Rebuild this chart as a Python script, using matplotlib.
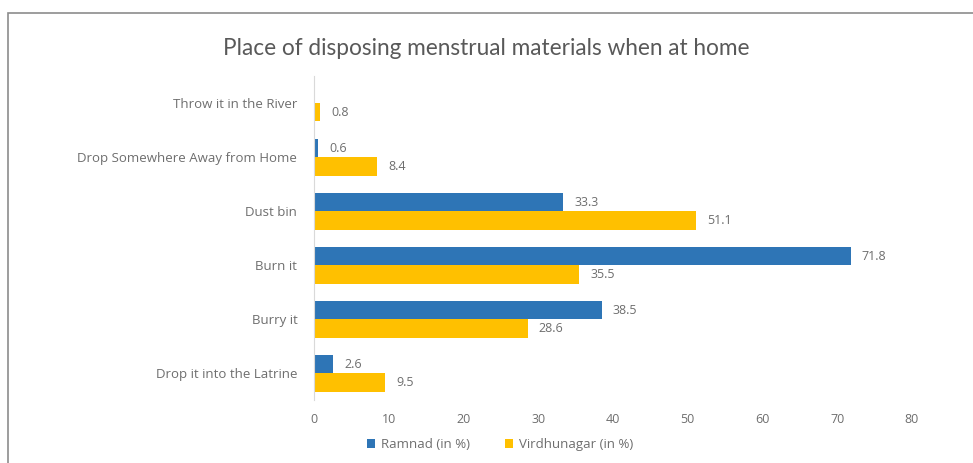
import matplotlib.pyplot as plt
import numpy as np
from matplotlib.patches import Rectangle

plt.rcParams['font.family'] = ['Open Sans', 'DejaVu Sans']

# Disposal places, listed top to bottom
categories = [
    "Throw it in the River",
    "Drop Somewhere Away from Home",
    "Dust bin",
    "Burn it",
    "Burry it",
    "Drop it into the Latrine",
]
ramnad = [None, 0.6, 33.3, 71.8, 38.5, 2.6]
virdhunagar = [0.8, 8.4, 51.1, 35.5, 28.6, 9.5]

BLUE = '#2E75B6'
GOLD = '#FFC000'
GREY = '#6e6e6e'

fig = plt.figure(figsize=(9.73, 4.63), dpi=100)
ax = fig.add_axes([0.3227, 0.135, 0.6146, 0.70])

# outer frame of the chart box
fig.patches.append(Rectangle((8 / 973, -0.1), 1.2, 1 - 13 / 463 + 0.1,
                             transform=fig.transFigure, fill=False,
                             edgecolor='#8c8c8c', linewidth=1.2))

y = np.arange(len(categories))
h = 0.335

r_vals = [v if v is not None else 0 for v in ramnad]
bars_r = ax.barh(y - h / 2, r_vals, height=h, color=BLUE, label='Ramnad (in %)')
bars_v = ax.barh(y + h / 2, virdhunagar, height=h, color=GOLD, label='Virdhunagar (in %)')

for bars, vals in [(bars_r, ramnad), (bars_v, virdhunagar)]:
    for bar, v in zip(bars, vals):
        if v is None:
            continue
        ax.annotate(f"{v:.1f}", (bar.get_width(), bar.get_y() + bar.get_height() / 2),
                    xytext=(8, 0), textcoords='offset points', va='center',
                    fontsize=9, color=GREY)

ax.set_yticks(y)
ax.set_yticklabels(categories)
ax.set_ylim(len(categories) - 0.5, -0.5)
ax.set_xlim(0, 80)
ax.set_xticks(range(0, 81, 10))

for side in ['top', 'right', 'bottom']:
    ax.spines[side].set_visible(False)
ax.spines['left'].set_color('#d9d9d9')
ax.tick_params(axis='both', length=0, colors=GREY, labelsize=9)
ax.tick_params(axis='y', pad=12, labelsize=9.5)
ax.tick_params(axis='x', pad=9)

fig.text(0.5, 0.895, "Place of disposing menstrual materials when at home",
         ha='center', va='center', fontsize=16.3, color='#595959',
         family=['Lato', 'DejaVu Sans'])

fig.legend(loc='center', bbox_to_anchor=(0.514, 0.04), ncol=2, frameon=False,
           fontsize=9.5, handlelength=0.6, handleheight=0.6, columnspacing=2.6,
           handletextpad=0.5, labelcolor=GREY)

fig.savefig('out.png', dpi=100, facecolor='white')
